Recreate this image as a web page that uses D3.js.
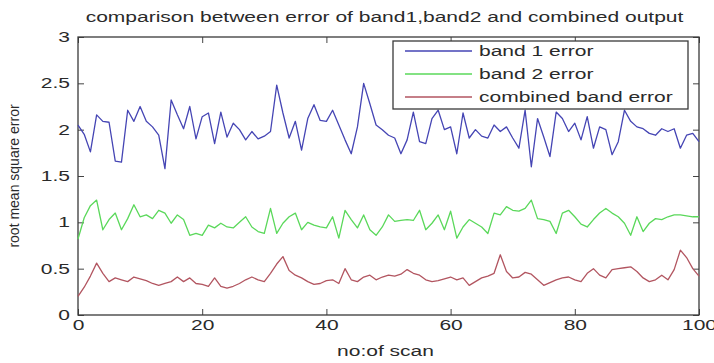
<!DOCTYPE html>
<html>
<head>
<meta charset="utf-8">
<script src="https://cdn.jsdelivr.net/npm/d3@7"></script>
<style>
  body { margin: 0; background: #fff; }
  text { font-family: "Liberation Sans", Arial, sans-serif; fill: #2a2a2a; }
</style>
</head>
<body>
<div id="chart"></div>
<script>
// values, one per scan 0..100
var band1Error = [2.05, 1.95, 1.76, 2.16, 2.09, 2.08, 1.66, 1.65, 2.21, 2.09,
  2.25, 2.09, 2.03, 1.94, 1.58, 2.32, 2.16, 2.01, 2.25, 1.9,
  2.14, 2.18, 1.85, 2.19, 1.92, 2.07, 2.0, 1.89, 1.98, 1.9,
  1.93, 1.98, 2.48, 2.18, 1.91, 2.09, 1.78, 2.12, 2.27, 2.1,
  2.09, 2.21, 2.05, 1.89, 1.74, 2.03, 2.5, 2.28, 2.05, 2.0,
  1.94, 1.91, 1.74, 1.89, 2.19, 1.87, 1.85, 2.12, 2.21, 2.0,
  2.03, 1.74, 2.18, 1.91, 2.0, 1.93, 1.91, 2.05, 1.98, 2.03,
  1.91, 1.8, 2.21, 1.6, 2.12, 1.92, 1.71, 2.19, 2.12, 1.98,
  2.07, 1.89, 2.14, 1.8, 2.03, 2.0, 1.73, 1.87, 2.21, 2.09,
  2.03, 2.01, 1.96, 1.94, 2.01, 1.98, 2.01, 1.8, 1.94, 1.96, 1.87];

var band2Error = [0.82, 1.05, 1.18, 1.24, 0.92, 1.03, 1.1, 0.92, 1.04, 1.19,
  1.06, 1.08, 1.04, 1.13, 1.1, 0.99, 1.08, 1.03, 0.86, 0.88,
  0.86, 0.97, 0.94, 0.99, 0.95, 0.94, 1.0, 1.06, 0.95, 0.9,
  0.88, 1.15, 0.88, 0.99, 1.06, 1.1, 0.92, 1.0, 0.97, 0.95,
  0.94, 1.06, 0.83, 1.13, 1.03, 0.94, 1.08, 0.92, 0.86, 0.95,
  1.08, 1.01, 1.02, 1.03, 1.02, 1.13, 0.92, 0.99, 1.08, 0.92,
  1.12, 0.83, 0.95, 1.03, 0.99, 0.95, 0.88, 1.1, 1.08, 1.17,
  1.13, 1.12, 1.15, 1.24, 1.04, 1.03, 1.01, 0.88, 1.1, 1.13,
  1.06, 0.98, 0.95, 1.03, 1.1, 1.15, 1.1, 1.06, 0.99, 0.86,
  1.06, 0.9, 0.99, 1.04, 1.03, 1.06, 1.08, 1.08, 1.07, 1.06, 1.06];

var combinedError = [0.2, 0.3, 0.42, 0.56, 0.45, 0.36, 0.4, 0.38, 0.36, 0.41,
  0.39, 0.37, 0.34, 0.32, 0.34, 0.36, 0.41, 0.36, 0.4, 0.34,
  0.33, 0.31, 0.4, 0.31, 0.29, 0.31, 0.34, 0.38, 0.41, 0.38,
  0.36, 0.45, 0.55, 0.63, 0.48, 0.43, 0.4, 0.36, 0.33, 0.34,
  0.37, 0.38, 0.34, 0.5, 0.38, 0.36, 0.41, 0.43, 0.38, 0.41,
  0.43, 0.42, 0.44, 0.49, 0.45, 0.43, 0.38, 0.36, 0.37, 0.39,
  0.41, 0.38, 0.4, 0.32, 0.36, 0.4, 0.42, 0.45, 0.65, 0.47,
  0.4, 0.41, 0.46, 0.44, 0.38, 0.32, 0.35, 0.38, 0.4, 0.41,
  0.38, 0.36, 0.45, 0.5, 0.43, 0.4, 0.49, 0.5, 0.51, 0.52,
  0.47, 0.4, 0.36, 0.38, 0.43, 0.38, 0.49, 0.7, 0.62, 0.5, 0.42];

var seriesNames = ['band 1 error', 'band 2 error', 'combined band error'];
var seriesColors = ['#4545b4', '#5ad85a', '#b25560'];
var xTicks = [0, 20, 40, 60, 80, 100];
var yTicks = [0, 0.5, 1, 1.5, 2, 2.5, 3];

var width = 714, height = 363;
var plotLeft = 78, plotRight = 699, plotTop = 37, plotBottom = 315;
var stretch = 1.5; // the picture is wider than tall, text looks stretched

var svg = d3.select('#chart').append('svg')
  .attr('width', width)
  .attr('height', height);

var x = d3.scaleLinear().domain([0, 100]).range([plotLeft, plotRight]);
var y = d3.scaleLinear().domain([0, 3]).range([plotBottom, plotTop]);

// axes with inward ticks on all four sides
svg.append('g')
  .attr('class', 'axis')
  .attr('transform', 'translate(0,' + plotBottom + ')')
  .call(d3.axisBottom(x).tickValues(xTicks).tickSizeInner(-6).tickSizeOuter(0).tickPadding(5));
svg.append('g')
  .attr('class', 'axis')
  .attr('transform', 'translate(0,' + plotTop + ')')
  .call(d3.axisTop(x).tickValues(xTicks).tickSizeInner(-6).tickSizeOuter(0).tickFormat(''));
svg.append('g')
  .attr('class', 'axis')
  .attr('transform', 'translate(' + plotLeft + ',0)')
  .call(d3.axisLeft(y).tickValues(yTicks).tickSizeInner(-6).tickSizeOuter(0).tickPadding(8).tickFormat(d3.format('')));
svg.append('g')
  .attr('class', 'axis')
  .attr('transform', 'translate(' + plotRight + ',0)')
  .call(d3.axisRight(y).tickValues(yTicks).tickSizeInner(-6).tickSizeOuter(0).tickFormat(''));

svg.selectAll('.axis .domain').remove();
svg.selectAll('.axis line').attr('stroke', '#444');
svg.selectAll('.axis text')
  .attr('font-size', 14)
  .style('font-family', '"Liberation Sans", Arial, sans-serif')
  .attr('fill', '#333');

// box
svg.append('rect')
  .attr('x', plotLeft)
  .attr('y', plotTop)
  .attr('width', plotRight - plotLeft)
  .attr('height', plotBottom - plotTop)
  .attr('fill', 'none')
  .attr('stroke', '#3a3a3a')
  .attr('stroke-width', 1.3);

var line = d3.line()
  .x(function (d, i) { return x(i); })
  .y(function (d) { return y(d); });

var allSeries = [band1Error, band2Error, combinedError];
svg.append('g')
  .selectAll('path')
  .data(allSeries)
  .enter()
  .append('path')
  .attr('d', line)
  .attr('fill', 'none')
  .attr('stroke', function (d, i) { return seriesColors[i]; })
  .attr('stroke-width', 1.3)
  .attr('stroke-linejoin', 'round');

// legend
var legend = svg.append('g');
legend.append('rect')
  .attr('x', 393)
  .attr('y', 41)
  .attr('width', 295)
  .attr('height', 68)
  .attr('fill', '#fff')
  .attr('stroke', '#3a3a3a')
  .attr('stroke-width', 1.3);

var rows = legend.selectAll('.row')
  .data(seriesNames)
  .enter()
  .append('g')
  .attr('class', 'row')
  .attr('transform', function (d, i) { return 'translate(0,' + (51 + i * 23) + ')'; });
rows.append('line')
  .attr('x1', 405).attr('x2', 472)
  .attr('stroke', function (d, i) { return seriesColors[i]; })
  .attr('stroke-width', 1.3);
rows.append('text')
  .attr('x', 479)
  .attr('dy', '0.35em')
  .attr('font-size', 14)
  .text(function (d) { return d; });

// title and labels
svg.append('text')
  .attr('x', (plotLeft + plotRight) / 2 - 4)
  .attr('y', 22)
  .attr('text-anchor', 'middle')
  .attr('font-size', 14)
  .text('comparison between error of band1,band2 and combined output');

svg.append('text')
  .attr('x', (plotLeft + plotRight) / 2 - 3)
  .attr('y', 356)
  .attr('text-anchor', 'middle')
  .attr('font-size', 14)
  .text('no:of scan');

svg.append('text')
  .attr('transform', 'translate(19,' + ((plotTop + plotBottom) / 2) + ') rotate(-90)')
  .attr('text-anchor', 'middle')
  .attr('font-size', 14)
  .text('root mean square error');

// widen horizontal text like the reference
svg.selectAll('text').each(function () {
  var t = d3.select(this);
  if ((t.attr('transform') || '').indexOf('rotate') >= 0) return;
  var w = this.getComputedTextLength();
  t.attr('textLength', w * stretch).attr('lengthAdjust', 'spacingAndGlyphs');
});
</script>
</body>
</html>
